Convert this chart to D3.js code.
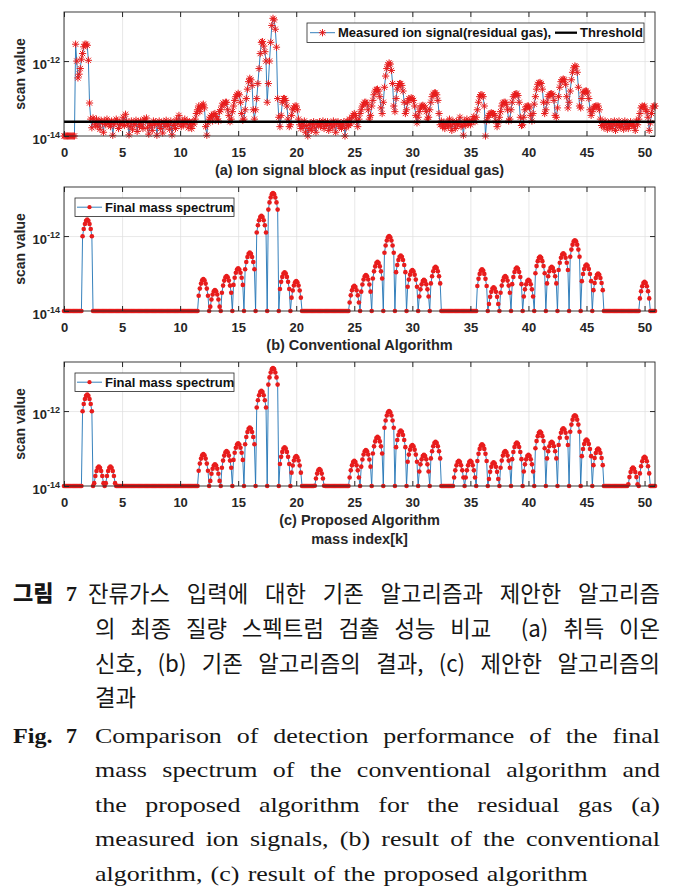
<!DOCTYPE html>
<html><head><meta charset="utf-8">
<script src="https://cdn.jsdelivr.net/npm/d3@7"></script>
<style>body{margin:0;background:#fff} svg{display:block}</style>
</head><body>
<svg id="c" width="678" height="893"></svg>
<script>
// ---------------- DATA ----------------
const xTicks = [0, 5, 10, 15, 20, 25, 30, 35, 40, 45, 50];
const yTicks = [1e-14, 1e-12];
const yTickExp = ["-14", "-12"];
const xMax = 50.9;
const yMin = 1e-14, yMax = 2.04e-11;
const massStep = 0.1;          // mass index spacing of the samples
const baselineValue = 1e-14;
const thresholdValue = 2.4e-14;

// (a) measured ion signal, log10(scan value), 10 samples per mass unit (0.0 ... 50.9)
const measuredLog10 = [
 -14,-14,-14,-14,-14,-14,-14,-14,-14,-14,
 -11.55,-12.0,-12.45,-12.35,-12.2,-11.95,-11.8,-11.62,-11.55,-11.55,
 -11.58,-11.98,-13.12,-13.55,-13.78,-13.52,-13.62,-13.7,-13.55,-13.75,
 -13.6,-13.82,-13.58,-13.66,-13.9,-13.6,-13.7,-13.55,-13.68,-13.62,
 -13.75,-13.6,-13.98,-13.7,-13.62,-13.55,-13.6,-13.8,-13.65,-13.7,
 -13.62,-13.5,-13.72,-13.42,-13.6,-13.68,-13.97,-13.75,-13.6,-13.82,
 -13.65,-13.7,-13.58,-13.88,-13.62,-13.75,-13.6,-13.7,-13.8,-13.55,
 -13.6,-13.52,-13.78,-13.95,-13.66,-13.72,-13.85,-13.6,-13.7,-13.62,
 -13.98,-13.7,-13.6,-13.8,-13.66,-13.92,-13.62,-13.75,-13.58,-13.7,
 -13.66,-13.82,-13.6,-13.97,-13.72,-13.65,-13.8,-13.55,-13.68,-13.45,
 -13.62,-13.75,-13.6,-13.7,-13.55,-13.65,-13.6,-13.78,-13.62,-13.7,
 -13.8,-13.62,-13.68,-13.55,-13.4,-13.3,-13.2,-13.35,-13.25,-13.18,
 -13.15,-13.25,-13.75,-13.98,-13.65,-13.55,-13.5,-13.45,-13.6,-13.42,
 -13.4,-13.48,-13.55,-13.6,-13.35,-13.3,-13.2,-13.12,-13.15,-13.1,
 -13.1,-13.3,-13.45,-13.62,-13.55,-13.35,-13.2,-13.05,-12.95,-12.9,
 -12.86,-12.9,-13.1,-13.4,-13.58,-13.55,-13.3,-13.0,-12.75,-12.55,
 -12.46,-12.5,-12.65,-13.3,-13.55,-13.3,-13.0,-12.6,-12.2,-11.8,
 -11.5,-11.48,-11.6,-11.75,-12.0,-13.1,-12.6,-12.0,-11.5,-11.05,
 -10.86,-10.9,-11.15,-11.63,-13.0,-13.5,-13.75,-13.45,-13.1,-13.0,
 -13.0,-13.05,-13.2,-13.55,-13.75,-13.7,-13.45,-13.3,-13.25,-13.2,
 -13.2,-13.3,-13.55,-13.7,-13.8,-13.65,-13.75,-13.6,-13.9,-13.72,
 -14.0,-13.8,-13.65,-13.85,-13.7,-13.62,-13.78,-13.9,-13.66,-13.7,
 -13.62,-13.75,-13.68,-13.6,-13.8,-13.65,-13.72,-13.62,-13.85,-13.7,
 -13.66,-13.78,-13.6,-13.7,-13.9,-13.65,-13.62,-13.75,-13.68,-13.8,
 -13.7,-13.62,-14.0,-13.78,-13.6,-13.72,-13.55,-13.68,-13.5,-13.45,
 -13.4,-13.45,-13.6,-13.75,-13.55,-13.4,-13.3,-13.2,-13.15,-13.1,
 -13.1,-13.15,-13.3,-13.55,-13.45,-13.2,-13.05,-12.9,-12.8,-12.76,
 -12.75,-12.8,-12.95,-13.25,-13.4,-13.1,-12.7,-12.4,-12.2,-12.1,
 -12.05,-12.08,-12.25,-12.6,-13.2,-13.35,-13.0,-12.75,-12.65,-12.6,
 -12.6,-12.65,-12.8,-13.1,-13.4,-13.3,-13.1,-13.0,-13.02,-12.98,
 -13.0,-13.05,-13.2,-13.45,-13.65,-13.5,-13.35,-13.25,-13.2,-13.18,
 -13.2,-13.25,-13.35,-13.55,-13.5,-13.3,-13.1,-12.95,-12.88,-12.85,
 -12.85,-12.9,-13.05,-13.4,-13.7,-13.6,-13.75,-13.65,-13.8,-13.7,
 -13.62,-13.75,-13.55,-13.7,-13.85,-13.6,-13.68,-13.8,-13.62,-13.7,
 -13.65,-13.5,-13.75,-13.7,-13.98,-13.6,-13.72,-13.55,-13.68,-13.6,
 -13.7,-13.62,-13.55,-13.48,-13.62,-13.5,-13.3,-13.1,-12.95,-12.9,
 -12.9,-12.95,-13.2,-14.0,-13.6,-13.5,-13.45,-13.4,-13.38,-13.4,
 -13.4,-13.45,-13.6,-13.75,-13.65,-13.5,-13.35,-13.2,-13.12,-13.1,
 -13.1,-13.15,-13.3,-13.6,-13.55,-13.3,-13.1,-12.95,-12.9,-12.88,
 -12.87,-12.92,-13.1,-13.5,-13.72,-13.7,-13.5,-13.3,-13.22,-13.2,
 -13.2,-13.25,-13.45,-13.6,-13.4,-13.15,-12.95,-12.75,-12.62,-12.58,
 -12.57,-12.6,-12.75,-13.1,-13.4,-13.3,-13.1,-12.95,-12.9,-12.88,
 -12.87,-12.9,-13.05,-13.45,-13.5,-13.25,-12.95,-12.7,-12.55,-12.5,
 -12.48,-12.5,-12.62,-12.95,-13.25,-13.1,-12.8,-12.5,-12.3,-12.18,
 -12.13,-12.15,-12.3,-12.7,-13.2,-13.25,-13.0,-12.85,-12.82,-12.8,
 -12.8,-12.85,-13.0,-13.3,-13.45,-13.35,-13.25,-13.22,-13.2,-13.2,
 -13.2,-13.3,-13.55,-13.72,-13.65,-13.78,-13.6,-13.7,-13.82,-13.66,
 -13.75,-13.62,-13.8,-13.7,-13.6,-13.85,-13.68,-13.72,-13.6,-13.78,
 -13.7,-13.66,-13.82,-13.6,-13.75,-13.65,-13.8,-13.7,-13.62,-13.72,
 -13.68,-13.75,-13.85,-13.6,-13.7,-13.55,-13.4,-13.25,-13.2,-13.22,
 -13.2,-13.3,-13.35,-13.5,-13.85,-13.65,-13.4,-13.25,-13.2,-13.2
];

// (b) conventional algorithm: detected masses and peak heights (log10)
const convMass  = [2, 12, 13, 14, 15, 16, 17, 18, 19, 20, 25, 26, 27, 28, 29, 30, 31, 32,
                   36, 37, 38, 39, 40, 41, 42, 43, 44, 45, 46, 50];
const convPeakLog10 = [-11.56, -13.15, -13.44, -13.07, -12.86, -12.44, -11.46, -10.85, -12.97, -13.2,
                   -13.33, -13.04, -12.69, -12.0, -12.52, -12.91, -13.17, -12.82,
                   -12.89, -13.37, -13.07, -12.84, -13.17, -12.55, -12.82, -12.46, -12.11, -12.76, -13.0, -13.22];
// (c) proposed algorithm
const propMass  = [2, 3, 4, 12, 13, 14, 15, 16, 17, 18, 19, 20, 22, 25, 26, 27, 28, 29, 30, 31, 32,
                   34, 35, 36, 37, 38, 39, 40, 41, 42, 43, 44, 45, 46, 49, 50];
const propPeakLog10 = [-11.56, -13.48, -13.48, -13.15, -13.42, -13.07, -12.86, -12.44, -11.46, -10.85, -12.97, -13.2, -13.55,
                   -13.33, -13.04, -12.69, -12.0, -12.52, -12.91, -13.17, -12.82,
                   -13.33, -13.33, -12.89, -13.37, -13.07, -12.84, -13.17, -12.55, -12.82, -12.46, -12.11, -12.76, -13.0, -13.51, -13.22];
// arch shape of each spectral peak (samples at offset -0.4 ... +0.4, relative to peak)
const archOffsetSteps = [-4, -3, -2, -1, 0, 1, 2, 3, 4];
const archFactor = [0.36, 0.56, 0.76, 0.93, 1, 0.93, 0.76, 0.56, 0.36];

const legendA1 = "Measured ion signal(residual gas),";
const legendA2 = "Threshold";
const legendB = "Final mass spectrum";
const titles = ["(a) Ion signal block as input (residual gas)", "(b) Conventional Algorithm", "(c) Proposed Algorithm"];
const xLabel = "mass index[k]";
const yLabel = "scan value";

// ---------------- DRAW ----------------
const svg = d3.select("#c");
const RED = "#e81c1c", BLUE = "#1f73b4", AX = "#262626";
const FONT = "'Liberation Sans', Arial, sans-serif";
const nPts = measuredLog10.length;

const x = d3.scaleLinear().domain([0, xMax]).range([64, 655]);
const panels = [{top: 12, bottom: 136}, {top: 187, bottom: 311}, {top: 362, bottom: 486}];

const measured = measuredLog10.map((v, i) => ({m: i * massStep, v: Math.pow(10, v)}));
function buildSpectrum(mass, peakLog10) {
  const vals = d3.range(nPts).map(() => baselineValue);
  mass.forEach((m, k) => {
    archOffsetSteps.forEach((o, j) => {
      const idx = Math.round(m / massStep) + o;
      if (idx >= 0 && idx < nPts) vals[idx] = Math.pow(10, peakLog10[k]) * archFactor[j];
    });
  });
  return vals.map((v, i) => ({m: i * massStep, v}));
}
const conv = buildSpectrum(convMass, convPeakLog10);
const prop = buildSpectrum(propMass, propPeakLog10);

function drawFrame(p, y) {
  const g = svg.append("g");
  const h = p.bottom - p.top;
  g.append("g").attr("transform", `translate(0,${p.bottom})`)
    .call(d3.axisBottom(x).tickValues(xTicks).tickSizeInner(-h).tickSizeOuter(0).tickFormat(""))
    .call(s => { s.select(".domain").remove(); s.selectAll("line").attr("stroke", "#dedede").attr("stroke-width", 0.7); });
  g.append("g").attr("transform", `translate(64,0)`)
    .call(d3.axisLeft(y).tickValues([1e-12]).tickSizeInner(-(655 - 64)).tickSizeOuter(0).tickFormat(""))
    .call(s => { s.select(".domain").remove(); s.selectAll("line").attr("stroke", "#dedede").attr("stroke-width", 0.7); });
  return g;
}
function drawAxes(p, y) {
  const g = svg.append("g");
  g.append("rect").attr("x", 64).attr("y", p.top).attr("width", 655 - 64).attr("height", p.bottom - p.top)
    .attr("fill", "none").attr("stroke", AX).attr("stroke-width", 0.9);
  const bx = g.append("g").attr("transform", `translate(0,${p.bottom})`)
    .call(d3.axisBottom(x).tickValues(xTicks).tickSizeInner(-5).tickSizeOuter(0).tickPadding(11.3));
  bx.select(".domain").remove();
  bx.selectAll("line").attr("stroke", AX);
  bx.selectAll("text").attr("font-family", FONT).attr("font-weight", "bold").attr("font-size", 13).attr("fill", "#262626");
  const tx = g.append("g").attr("transform", `translate(0,${p.top})`)
    .call(d3.axisTop(x).tickValues(xTicks).tickSizeInner(-5).tickSizeOuter(0).tickFormat(""));
  tx.select(".domain").remove(); tx.selectAll("line").attr("stroke", AX);
  const ly = g.append("g").attr("transform", `translate(64,0)`)
    .call(d3.axisLeft(y).tickValues(yTicks).tickSizeInner(-5).tickSizeOuter(0).tickFormat(""));
  ly.select(".domain").remove(); ly.selectAll("line").attr("stroke", AX);
  ly.selectAll(".tick text").remove();
  ly.selectAll(".tick").each(function(d, i) {
    const t = d3.select(this).append("text").attr("x", -4).attr("y", 7).attr("text-anchor", "end")
      .attr("font-family", FONT).attr("font-weight", "bold").attr("font-size", 13).attr("fill", "#262626");
    t.append("tspan").text("10");
    t.append("tspan").attr("dy", -6).attr("font-size", 9).text(yTickExp[i]);
  });
  const ry = g.append("g").attr("transform", `translate(655,0)`)
    .call(d3.axisRight(y).tickValues(yTicks).tickSizeInner(-5).tickSizeOuter(0).tickFormat(""));
  ry.select(".domain").remove(); ry.selectAll("line").attr("stroke", AX);
  g.append("text").attr("transform", `translate(25,${(p.top + p.bottom) / 2}) rotate(-90)`)
    .attr("text-anchor", "middle").attr("font-family", FONT).attr("font-weight", "bold").attr("font-size", 14)
    .attr("fill", "#262626").text(yLabel);
}
const asterisk = "M-3.6,0H3.6M0,-3.6V3.6M-2.6,-2.6L2.6,2.6M-2.6,2.6L2.6,-2.6";

panels.forEach((p, pi) => {
  const y = d3.scaleLog().domain([yMin, yMax]).range([p.bottom, p.top]);
  drawFrame(p, y);
  const line = d3.line().x(d => x(d.m)).y(d => y(d.v));
  const data = pi === 0 ? measured : (pi === 1 ? conv : prop);
  svg.append("path").datum(data).attr("d", line).attr("fill", "none").attr("stroke", BLUE).attr("stroke-width", 0.9);
  if (pi === 0) {
    svg.append("g").selectAll("path").data(data).join("path")
      .attr("transform", d => `translate(${x(d.m)},${y(d.v)})`).attr("d", asterisk)
      .attr("stroke", RED).attr("stroke-width", 1).attr("fill", "none");
    svg.append("line").attr("x1", x(0)).attr("x2", x(xMax)).attr("y1", y(thresholdValue)).attr("y2", y(thresholdValue))
      .attr("stroke", "#000").attr("stroke-width", 2.3);
  } else {
    svg.append("g").selectAll("circle").data(data).join("circle")
      .attr("cx", d => x(d.m)).attr("cy", d => y(d.v)).attr("r", 2.3).attr("fill", RED);
  }
  drawAxes(p, y);
  const lg = svg.append("g");
  if (pi === 0) {
    lg.append("rect").attr("x", 307).attr("y", p.top + 11).attr("width", 337).attr("height", 19.5)
      .attr("fill", "#fff").attr("stroke", AX).attr("stroke-width", 0.8);
    const my = p.top + 20.7;
    lg.append("line").attr("x1", 310).attr("x2", 335).attr("y1", my).attr("y2", my).attr("stroke", BLUE).attr("stroke-width", 0.9);
    lg.append("path").attr("transform", `translate(322.5,${my})`).attr("d", asterisk).attr("stroke", RED).attr("fill", "none");
    lg.append("text").attr("x", 338).attr("y", my + 4.6).attr("font-family", FONT).attr("font-weight", "bold")
      .attr("font-size", 13).attr("fill", "#111").text(legendA1);
    lg.append("line").attr("x1", 555).attr("x2", 577).attr("y1", my).attr("y2", my).attr("stroke", "#000").attr("stroke-width", 2.3);
    lg.append("text").attr("x", 580).attr("y", my + 4.6).attr("font-family", FONT).attr("font-weight", "bold")
      .attr("font-size", 13).attr("fill", "#111").text(legendA2);
  } else {
    lg.append("rect").attr("x", 75).attr("y", p.top + 11).attr("width", 159).attr("height", 18.5)
      .attr("fill", "#fff").attr("stroke", AX).attr("stroke-width", 0.8);
    const my = p.top + 20.2;
    lg.append("line").attr("x1", 77).attr("x2", 102).attr("y1", my).attr("y2", my).attr("stroke", BLUE).attr("stroke-width", 0.9);
    lg.append("circle").attr("cx", 89.5).attr("cy", my).attr("r", 2.1).attr("fill", RED);
    lg.append("text").attr("x", 105).attr("y", my + 4.6).attr("font-family", FONT).attr("font-weight", "bold")
      .attr("font-size", 13).attr("fill", "#111").text(legendB);
  }
  svg.append("text").attr("x", 359.5).attr("y", p.bottom + 38.5).attr("text-anchor", "middle")
    .attr("font-family", FONT).attr("font-weight", "bold").attr("font-size", 14.5).attr("fill", "#262626").text(titles[pi]);
});
svg.append("text").attr("x", 359.5).attr("y", 544).attr("text-anchor", "middle")
  .attr("font-family", FONT).attr("font-weight", "bold").attr("font-size", 14.5).attr("fill", "#262626").text(xLabel);

// ---------------- CAPTION ----------------
const KR = "'Noto Sans CJK KR', sans-serif", SERIF = "'Liberation Serif', 'Times New Roman', serif";
function placeLine(words, x0, x1, y, o) {
  const sx = o.sx || 1;
  const g = svg.append("g").attr("transform", `translate(${x0},${y}) scale(${sx},1)`);
  const ts = words.map(w => g.append("text").attr("font-family", o.family).attr("font-size", o.size)
    .attr("font-weight", o.weight || 400).attr("fill", "#161616").text(w));
  const ws = ts.map(t => t.node().getComputedTextLength());
  const avail = (x1 - x0) / sx;
  const gap = o.justify ? (avail - d3.sum(ws)) / (words.length - 1) : o.space;
  let cx = 0;
  ts.forEach((t, i) => { t.attr("x", cx); cx += ws[i] + gap; });
}
svg.append("text").attr("x", 13).attr("y", 601).attr("font-family", KR).attr("font-weight", 900)
  .attr("font-size", 22).attr("fill", "#161616").text("그림");
svg.append("text").attr("x", 66).attr("y", 601).attr("font-family", SERIF).attr("font-weight", "bold")
  .attr("font-size", 22).attr("fill", "#161616").text("7");
const krOpt = {family: KR, size: 23, sx: 0.97, justify: true};
placeLine(["잔류가스", "입력에", "대한", "기존", "알고리즘과", "제안한", "알고리즘"], 88, 660, 602, krOpt);
placeLine(["의", "최종", "질량", "스펙트럼", "검출", "성능", "비교", "", "(a)", "취득", "이온"], 95, 660, 637, krOpt);
placeLine(["신호,", "(b)", "기존", "알고리즘의", "결과,", "(c)", "제안한", "알고리즘의"], 95, 660, 672, krOpt);
placeLine(["결과"], 95, 660, 706, {family: KR, size: 23, sx: 0.97, justify: false, space: 6});
svg.append("text").attr("x", 13).attr("y", 743).attr("font-family", SERIF).attr("font-weight", "bold")
  .attr("font-size", 22).attr("fill", "#161616").attr("transform", "translate(13,0) scale(1.1,1) translate(-13,0)").text("Fig.");
svg.append("text").attr("x", 66).attr("y", 743).attr("font-family", SERIF).attr("font-weight", "bold")
  .attr("font-size", 22).attr("fill", "#161616").text("7");
const enOpt = {family: SERIF, size: 22, sx: 1.18, justify: true};
placeLine("Comparison of detection performance of the final".split(" "), 95, 660, 743, enOpt);
placeLine("mass spectrum of the conventional algorithm and".split(" "), 95, 660, 777, enOpt);
placeLine("the proposed algorithm for the residual gas (a)".split(" "), 95, 660, 812, enOpt);
placeLine("measured ion signals, (b) result of the conventional".split(" "), 95, 660, 846, enOpt);
placeLine("algorithm, (c) result of the proposed algorithm".split(" "), 95, 660, 881, {family: SERIF, size: 22, sx: 1.18, justify: false, space: 7});
</script>
</body></html>
